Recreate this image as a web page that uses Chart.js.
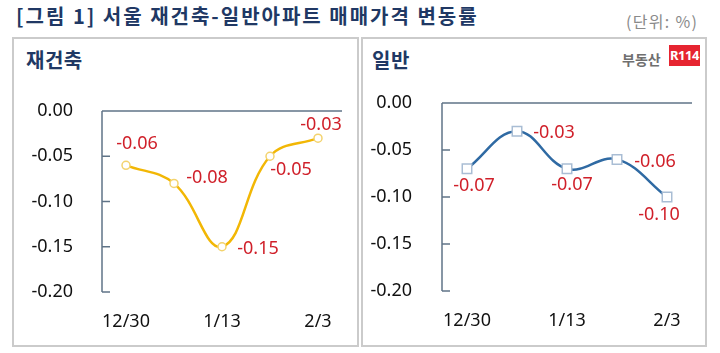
<!DOCTYPE html>
<html>
<head>
<meta charset="utf-8">
<script src="https://cdn.jsdelivr.net/npm/chart.js@4.4.0/dist/chart.umd.min.js"></script>
<style>
body { margin: 0; width: 720px; height: 353px; background: #fff; position: relative; overflow: hidden;
       font-family: 'Noto Sans CJK KR', 'Noto Sans', sans-serif; }
#title { position: absolute; left: 16px; top: 1px; font-size: 20px; font-weight: bold; color: #203864;
         letter-spacing: 2px; white-space: nowrap; }
#unit { position: absolute; left: 626px; top: 9px; font-size: 16px; color: #8a8a8a; white-space: nowrap;
        letter-spacing: 1.3px; }
.panel { position: absolute; top: 37px; height: 310px; border: 2px solid #cbcbcb; box-sizing: border-box; }
.ptitle { position: absolute; top: 45px; font-size: 20px; font-weight: bold; color: #203864; letter-spacing: 0.5px; }
#logoText { position: absolute; left: 622px; top: 49px; font-size: 14px; font-weight: bold; color: #6f6f6f; }
#logoBox { position: absolute; left: 669px; top: 45px; width: 31px; height: 21px; background: #e62430; color: #fff;
           font: bold 13px 'Noto Sans', sans-serif; text-align: center; line-height: 21px; letter-spacing: -0.5px; }
canvas { position: absolute; }
</style>
</head>
<body>
<div id="title">[그림 1] 서울 재건축-일반아파트 매매가격 변동률</div>
<div id="unit">(단위: %)</div>
<div class="panel" style="left:12px;width:347px"></div>
<div class="panel" style="left:361px;width:346px"></div>
<div class="ptitle" style="left:26px">재건축</div>
<div class="ptitle" style="left:372px">일반</div>
<div id="logoText">부동산</div>
<div id="logoBox">R114</div>
<canvas id="rebuildChart" width="342" height="305" style="left:14px;top:39px"></canvas>
<canvas id="generalChart" width="341" height="305" style="left:363px;top:39px"></canvas>
<script>
// data
const weeks = ['12/30', '1/6', '1/13', '1/20', '2/3'];
const shownWeeks = ['12/30', '', '1/13', '', '2/3'];
const yTicks = [0, -0.05, -0.10, -0.15, -0.20];
const rebuildValues = [-0.06, -0.08, -0.15, -0.05, -0.03];
const generalValues = [-0.07, -0.03, -0.07, -0.06, -0.10];

const AXIS = '#5f7387';
const LABEL_RED = '#d0202a';
Chart.defaults.font.family = "'Noto Sans', 'Noto Sans CJK KR', sans-serif";
Chart.defaults.color = '#111';

// axis line, top zero line and short inward ticks
const axisDecor = {
    id: 'axisDecor',
    beforeDatasetsDraw(chart) {
        const { ctx, chartArea, scales: { y } } = chart;
        ctx.save();
        ctx.strokeStyle = AXIS;
        ctx.lineWidth = 1.5;
        ctx.beginPath();
        ctx.moveTo(chartArea.left, chartArea.top);
        ctx.lineTo(chartArea.left, chartArea.bottom);
        ctx.stroke();
        y.ticks.forEach(t => {
            const py = y.getPixelForValue(t.value);
            ctx.beginPath();
            ctx.moveTo(chartArea.left, py);
            ctx.lineTo(t.value === 0 ? chartArea.right : chartArea.left + 8, py);
            ctx.stroke();
        });
        ctx.restore();
    }
};

// value labels next to each point
const pointLabels = {
    id: 'pointLabels',
    afterDatasetsDraw(chart, args, opts) {
        const { ctx } = chart;
        const meta = chart.getDatasetMeta(0);
        const values = chart.data.datasets[0].data;
        ctx.save();
        ctx.fillStyle = LABEL_RED;
        ctx.font = "18px 'Noto Sans', sans-serif";
        ctx.textAlign = 'center';
        ctx.textBaseline = 'middle';
        meta.data.forEach((pt, i) => {
            const off = opts.offsets[i];
            ctx.fillText(values[i].toFixed(2), pt.x + off[0], pt.y + off[1]);
        });
        ctx.restore();
    }
};

function makeChart(canvas, values, style) {
    return new Chart(canvas, {
        type: 'line',
        data: {
            labels: weeks,
            datasets: [{
                data: values,
                borderColor: style.line,
                borderWidth: 2.5,
                tension: 0.4,
                pointStyle: style.pointStyle,
                pointRadius: style.pointRadius,
                pointBackgroundColor: '#fff',
                pointBorderColor: style.pointBorder,
                pointBorderWidth: 1.5
            }]
        },
        options: {
            responsive: false,
            animation: false,
            layout: { padding: { left: 0, top: style.top, right: style.right, bottom: 0 } },
            scales: {
                x: {
                    offset: true,
                    grid: { display: false, drawTicks: false },
                    border: { display: false },
                    ticks: {
                        autoSkip: false,
                        maxRotation: 0,
                        padding: 19,
                        color: '#111',
                        font: { size: 18 },
                        callback: (v, i) => shownWeeks[i]
                    },
                    afterFit: s => { s.height = style.below; }
                },
                y: {
                    min: -0.20,
                    max: 0,
                    grid: { display: false, drawTicks: false },
                    border: { display: false },
                    afterBuildTicks: s => { s.ticks = yTicks.map(v => ({ value: v })); },
                    ticks: {
                        padding: style.yPad,
                        color: '#111',
                        font: { size: 18 },
                        callback: v => v.toFixed(2)
                    },
                    afterFit: s => { s.width = style.axisX; }
                }
            },
            plugins: {
                legend: { display: false },
                tooltip: { enabled: false },
                pointLabels: { offsets: style.offsets }
            }
        },
        plugins: [axisDecor, pointLabels]
    });
}

makeChart(document.getElementById('rebuildChart'), rebuildValues, {
    line: '#f2b705',
    pointStyle: 'circle',
    pointRadius: 4,
    pointBorder: '#f3d36e',
    top: 72, right: 14, below: 52, axisX: 88, yPad: 29,
    offsets: [[11, -21], [33, -6], [36, 2], [21, 14], [3, -13]]
});

makeChart(document.getElementById('generalChart'), generalValues, {
    line: '#2f6aa3',
    pointStyle: 'rect',
    pointRadius: 6.7,
    pointBorder: '#a9bdd4',
    top: 64, right: 12, below: 53, axisX: 79, yPad: 30,
    offsets: [[7, 17], [37, 2], [5, 16], [38, 2], [-8, 18]]
});
</script>
</body>
</html>
